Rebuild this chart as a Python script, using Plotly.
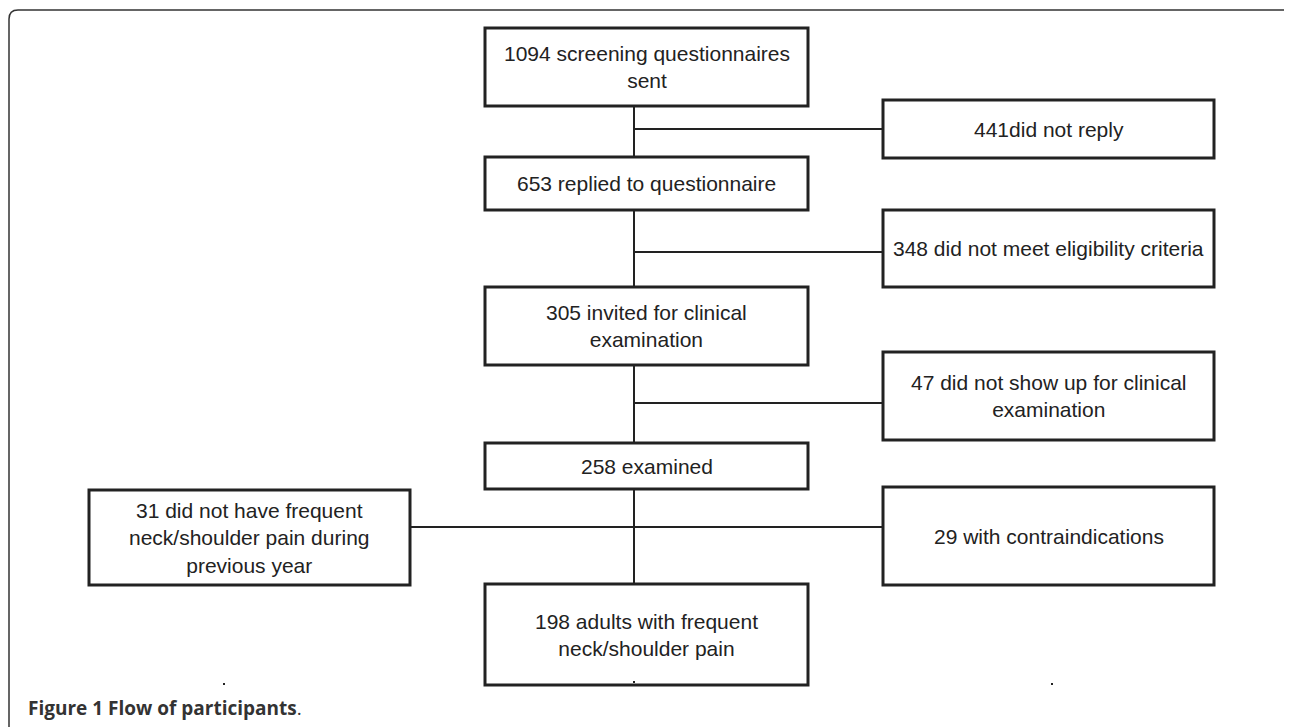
import plotly.graph_objects as go

# ---- data: flowchart node texts ----
main_labels = [
    "1094 screening questionnaires<br>sent",
    "653 replied to questionnaire",
    "305 invited for clinical<br>examination",
    "258 examined",
    "198 adults with frequent<br>neck/shoulder pain",
]
side_labels = [
    "441did not reply",
    "348 did not meet eligibility criteria",
    "47 did not show up for clinical<br>examination",
    "29 with contraindications",
]
left_labels = [
    "31 did not have frequent<br>neck/shoulder pain during<br>previous year",
]
caption_bold = "Figure 1 Flow of participants"

# ---- layout (pixel geometry, page coordinates) ----
W, H = 1292, 727
OFF = 8  # default page body margin
main_x = (485, 808)
main_y = [(28, 106), (157, 210), (287, 365), (443, 489), (584, 685)]
side_x = (883, 1214)
side_y = [(100, 158), (210, 287), (352, 440), (487, 585)]
left_x = (89, 410)
left_y = [(490, 585)]
spine_x = 634
branch_y = [129, 252, 403, 527]

INK = "#222222"
FONT = "Arial, Liberation Sans, sans-serif"
shapes = []
annotations = []

# outer rounded frame (left + top + top-right corner)
shapes.append(dict(type="path", xref="x", yref="y",
                   path="M 9,727 L 9,19 Q 9,10 18,10 L 1282,10 Q 1289,10 1292,15",
                   line=dict(color="#333333", width=1.5)))

# connector lines
for (a, b) in zip(main_y[:-1], main_y[1:]):
    shapes.append(dict(type="line", xref="x", yref="y", x0=spine_x, x1=spine_x,
                       y0=a[1], y1=b[0], line=dict(color=INK, width=2)))
for i, y in enumerate(branch_y):
    x0 = left_x[1] if i == 3 else spine_x
    shapes.append(dict(type="line", xref="x", yref="y", x0=x0, x1=side_x[0],
                       y0=y, y1=y, line=dict(color=INK, width=2)))


def box(xr, yr, text):
    shapes.append(dict(type="rect", xref="x", yref="y", x0=xr[0], x1=xr[1],
                       y0=yr[0], y1=yr[1], line=dict(color=INK, width=3),
                       fillcolor="white"))
    annotations.append(dict(x=(xr[0] + xr[1]) / 2, y=(yr[0] + yr[1]) / 2,
                            xref="x", yref="y", text=text, showarrow=False,
                            font=dict(family=FONT, size=21, color=INK),
                            align="center", xanchor="center", yanchor="middle"))


for t, yr in zip(main_labels, main_y):
    box(main_x, yr, t)
for t, yr in zip(side_labels, side_y):
    box(side_x, yr, t)
for t, yr in zip(left_labels, left_y):
    box(left_x, yr, t)

# tiny stray dots
for (dx, dy) in [(224, 684), (1052, 684), (634, 682)]:
    shapes.append(dict(type="rect", xref="x", yref="y", x0=dx - 1, x1=dx + 1,
                       y0=dy - 1, y1=dy + 1, line=dict(width=0), fillcolor=INK))

# caption
annotations.append(dict(x=26, y=708, xref="x", yref="y",
                        text="<b>" + caption_bold + "</b>.", showarrow=False,
                        font=dict(family="Open Sans, Noto Sans", size=19, color="#333333"),
                        xanchor="left", yanchor="middle"))

fig = go.Figure()
fig.update_layout(
    width=W - OFF, height=H - OFF,
    margin=dict(l=0, r=0, t=0, b=0),
    paper_bgcolor="white", plot_bgcolor="white",
    xaxis=dict(range=[OFF, W], visible=False, fixedrange=True),
    yaxis=dict(range=[H, OFF], visible=False, fixedrange=True),
    shapes=shapes, annotations=annotations, showlegend=False,
)
fig.write_html("out.html")
